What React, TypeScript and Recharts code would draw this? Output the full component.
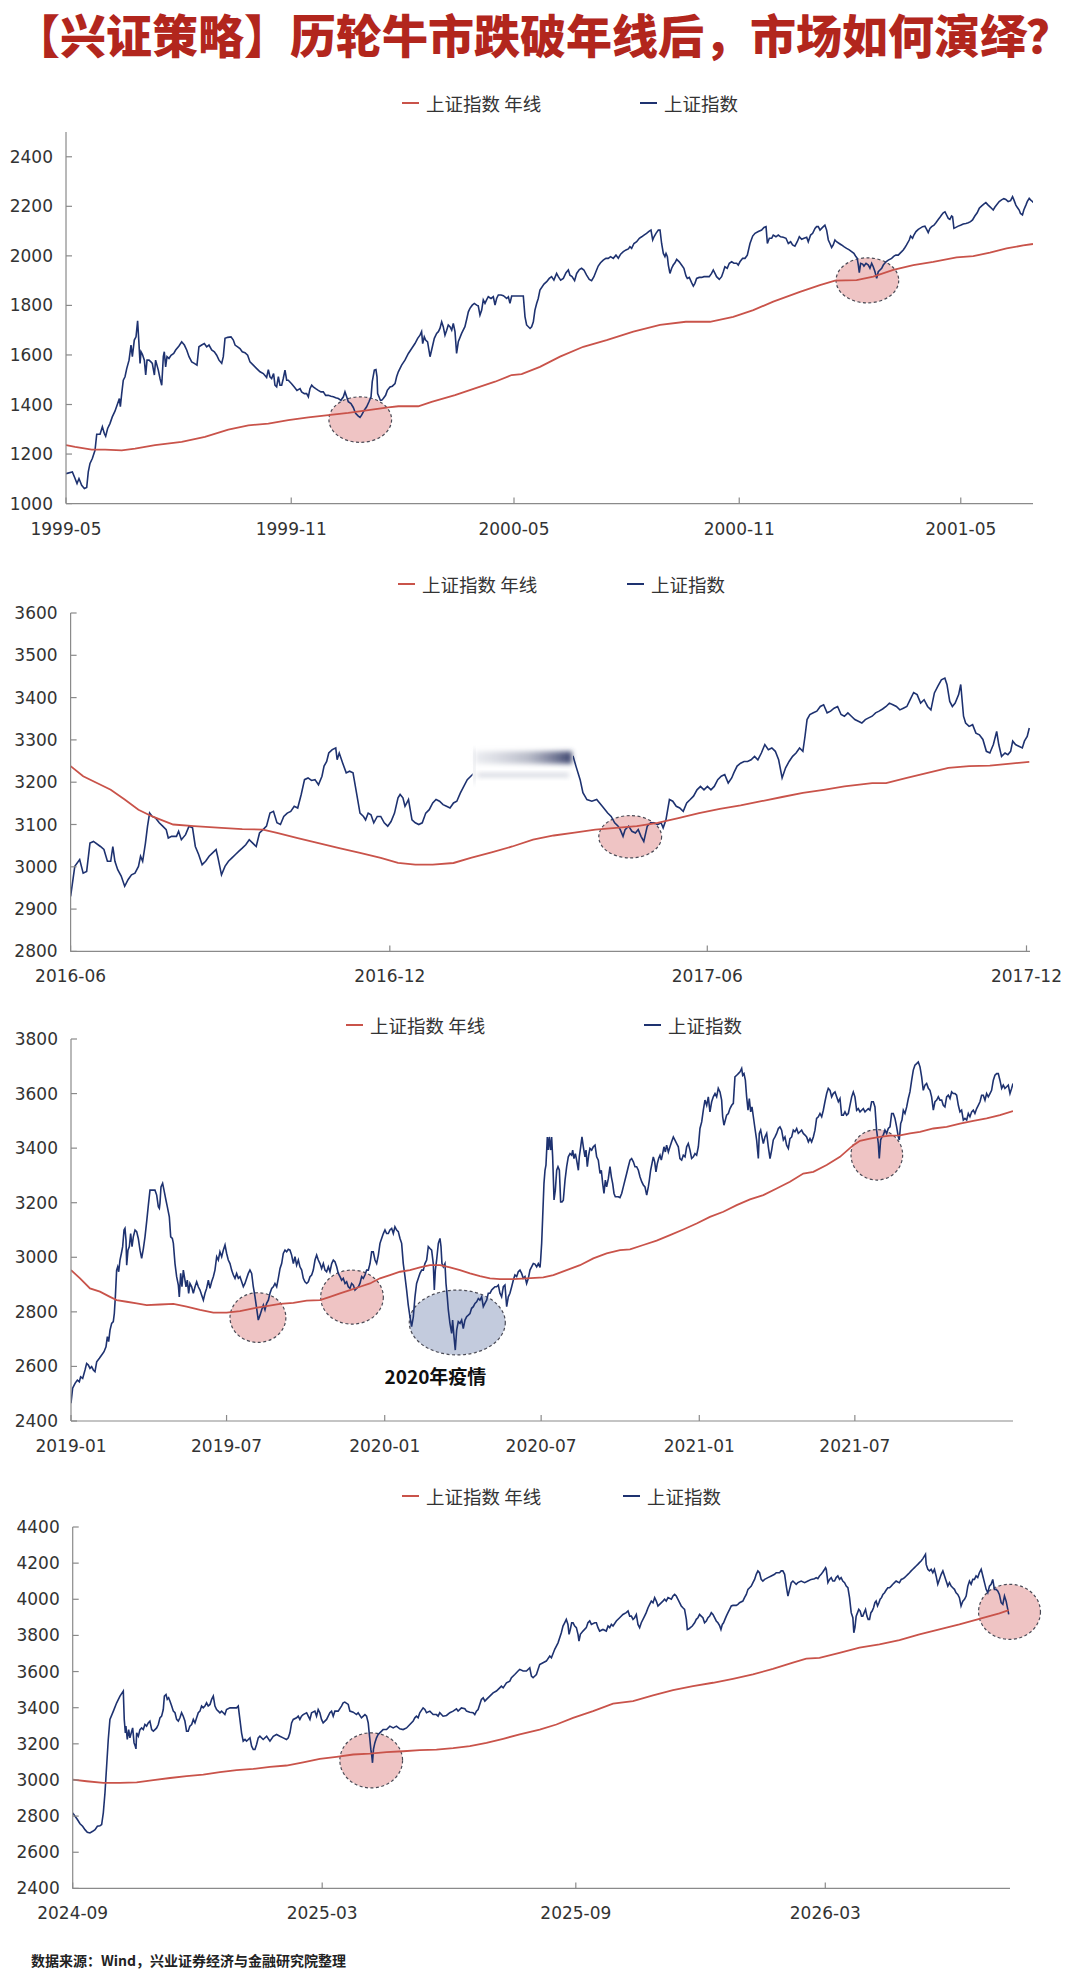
import React from "react";
import { LineChart, Line, XAxis, YAxis, ReferenceArea, ReferenceDot } from "recharts";

// [day offset from panel start, close]
type Pt = [number, number];
type Zone = { x: [number, number]; y: [number, number]; tone: "rose" | "slate" };

// ---------- 1999-05 ~ 2001-06 ----------
const xLabels9901 = ["1999-05", "1999-11", "2000-05", "2000-11", "2001-05"];
const yTicks9901 = [1000, 1200, 1400, 1600, 1800, 2000, 2200, 2400];
const sse9901: Pt[] = [
  [0,1121],[5.2,1128],[7.4,1101],[9,1081],[10.6,1101],[12.8,1074],[15,1061],[16.9,1065],[18.2,1128],[19.6,1162],[21.5,1182],[23.7,1215],[25.1,1280],[27.8,1280],[29.7,1310],[31.3,1283],[32.4,1272],[34,1303],[35.9,1323],[37.8,1350],[40,1373],[42.2,1404],[43.6,1424],[44.4,1391],[45.5,1444],[46.8,1498],[48.2,1512],[49.6,1545],[51.5,1579],[53.1,1640],[54.2,1593],[55.8,1660],[57.2,1673],[58.5,1738],[59.6,1646],[60.5,1566],[61.3,1613],[62.4,1603],[64,1579],[65.1,1519],[66.2,1579],[67.8,1579],[69.4,1572],[70.5,1566],[72.2,1519],[73.2,1579],[74.3,1559],[75.4,1539],[76.8,1505],[78.2,1478],[79.5,1593],[80.3,1613],[81.4,1552],[82.5,1593],[84.1,1586],[85.8,1599],[88,1606],[89.6,1620],[92.3,1636],[94.5,1653],[96.7,1640],[98.6,1620],[100.5,1593],[102.7,1572],[104.8,1566],[107,1559],[108.6,1633],[110.8,1640],[113,1646],[114.9,1633],[116.8,1640],[119,1620],[121.2,1613],[123.1,1599],[125,1579],[127.2,1566],[128.5,1593],[129.9,1667],[132.1,1671],[134.8,1673],[136.7,1660],[138.1,1640],[140.2,1633],[142.1,1626],[144,1613],[146.2,1609],[148.4,1599],[150.3,1572],[153,1559],[155.8,1545],[158.5,1532],[161.2,1525],[163.9,1509],[165.3,1541],[166.6,1512],[168,1505],[169.6,1525],[170.7,1478],[172.1,1471],[173.5,1512],[174.8,1478],[176.2,1478],[177.5,1505],[178.9,1539],[180.3,1498],[181.6,1498],[184.3,1484],[186.5,1471],[188.7,1457],[191.2,1464],[192.5,1451],[194.7,1444],[196.6,1444],[198,1431],[199.3,1464],[200.7,1478],[202,1471],[204,1464],[206.1,1457],[208.3,1451],[210.2,1451],[212.1,1437],[214.3,1437],[216.5,1433],[218.4,1431],[220.3,1427],[222.5,1424],[224.6,1417],[226.6,1431],[227.9,1451],[229.3,1431],[230.6,1411],[232.8,1404],[234.7,1388],[236.6,1364],[238.8,1353],[240.2,1348],[241.5,1357],[243.7,1377],[245.6,1391],[247.5,1411],[249.2,1431],[250.2,1492],[251.9,1539],[253.2,1541],[254.1,1512],[254.6,1444],[255.7,1431],[256.8,1417],[257.9,1417],[259.2,1424],[261.1,1437],[262.5,1457],[264.7,1471],[266.6,1474],[268.8,1484],[270.1,1512],[271.5,1532],[274.2,1559],[276.9,1579],[279.7,1606],[282.4,1626],[285.1,1646],[287.3,1667],[289.2,1680],[290.5,1694],[291.4,1646],[292.7,1673],[293.8,1660],[295.4,1653],[297.4,1593],[298.7,1620],[300.9,1667],[302.8,1687],[304.2,1694],[305.5,1707],[306.9,1734],[308.2,1714],[309.6,1680],[311,1700],[312.3,1721],[313.7,1714],[315.1,1700],[316.4,1727],[317.8,1694],[319.1,1606],[320.5,1653],[323.2,1687],[325.9,1714],[327.3,1743],[328.7,1774],[330,1788],[331.9,1801],[333.6,1808],[335.5,1801],[336.8,1798],[338.2,1761],[339.6,1781],[340.9,1822],[342.3,1808],[343.6,1822],[345,1835],[347.2,1828],[349.1,1835],[350.5,1801],[351.8,1828],[353.2,1842],[355.4,1842],[357.3,1839],[360,1828],[361.4,1835],[362.7,1808],[364.1,1838],[366.8,1838],[370.1,1838],[373.6,1838],[375,1754],[376.3,1721],[379.1,1707],[380.4,1714],[381.8,1734],[383.1,1781],[384.5,1808],[385.8,1828],[387.2,1862],
  [390.5,1886],[392.7,1896],[394.8,1909],[396.7,1916],[398.6,1902],[400.8,1929],[402.2,1916],[404.1,1902],[406.3,1909],[408.5,1932],[410.4,1943],[411.7,1922],[413.4,1916],[415.5,1900],[417.2,1929],[419.4,1945],[421.2,1950],[423.1,1943],[425.3,1922],[427.5,1905],[429.4,1900],[431.3,1916],[432.9,1936],[434.8,1959],[436.7,1972],[438.9,1983],[441.1,1990],[443,1990],[444.9,1997],[447.1,1990],[449.3,2003],[451.2,1990],[453.1,2007],[455.3,2017],[457.5,2024],[459.4,2028],[460.7,2037],[462.1,2030],[464,2050],[466.2,2057],[468.4,2071],[470.3,2077],[472.2,2084],[474.3,2091],[476.5,2100],[477.9,2104],[479.3,2064],[480.4,2077],[482,2091],[483.9,2104],[485.3,2104],[486.6,2050],[488,2010],[489.3,1997],[490.2,2010],[491.3,1997],[492.1,1963],[493.4,1929],[494.8,1950],[496.1,1963],[497.5,1972],[498.9,1986],[501,1976],[502.9,1963],[504.8,1950],[506.5,1919],[507.6,1909],[509.2,1913],[511.1,1892],[512.5,1878],[513.8,1889],[515.2,1909],[517.3,1913],[519.3,1913],[521.2,1916],[523.4,1916],[525.5,1916],[527.4,1929],[528.8,1943],[530.2,1929],[531.5,1916],[533.7,1905],[535.6,1916],[537,1936],[538.3,1956],[540.2,1950],[541.9,1970],[543.8,1976],[545.7,1970],[547.9,1970],[549.2,1963],[550.6,1976],[552.8,1990],[554.7,1990],[556.6,2003],[558.8,2050],[561,2080],[562.9,2091],[565.6,2098],[568.3,2104],[570.2,2115],[571.9,2118],[573,2050],[574.6,2071],[576.5,2071],[577.8,2084],[580,2077],[581.9,2084],[583.8,2077],[586,2075],[588.2,2071],[590.1,2050],[592,2057],[593.6,2044],[595.5,2039],[597.4,2057],[599.1,2077],[601,2067],[602.9,2071],[605.1,2075],[606.4,2057],[608.3,2084],[610,2091],[611.9,2111],[613.2,2118],[614.6,2118],[616,2104],[617.3,2111],[618.7,2118],[620,2124],[621.4,2104],[622.8,2064],[624.1,2050],[625.5,2034],[626.8,2044],[628.2,2064],[629.5,2057],[631.7,2050],[633.6,2044],[635.5,2037],[637.7,2030],[639.9,2024],[641.8,2017],[643.7,2010],[645.3,1997],[646.4,1990],[647.3,1963],[648.1,1932],[649.2,1970],[650.8,1967],[651.9,1959],[653.6,1970],[655.5,1963],[656.8,1950],[658.2,1970],[659.5,1956],[660.9,1936],[662.3,1909],[663.6,1936],[665,1943],[666.4,1950],[667.7,1963],[669.9,1976],[671.8,1983],[674.5,1990],[676.4,1999],[678,2003],[679.9,2003],[681.3,2010],[682.7,2017],[684,2024],[685.4,2034],[686.7,2044],[688.9,2064],[690,2080],[691.6,2071],[692.7,2084],[694.4,2098],[696.3,2107],[697.6,2111],[699.8,2118],[701.7,2120],[703.1,2107],[704.4,2094],[705.8,2111],[707.2,2118],[709.1,2124],[710.7,2134],[712.6,2147],[714,2156],[715.3,2165],[716.7,2174],[718.1,2178],[719.4,2165],[720.8,2151],[722.1,2147],[723.5,2161],[724.3,2158],[725.4,2111],[727,2115],[728.9,2120],[730.8,2124],[733,2129],[735.2,2131],[737.1,2134],[739,2138],[740.6,2145],[742.5,2161],[744.4,2174],[746.1,2192],[747.9,2201],[749.8,2209],[751.5,2215],[753.4,2205],[754.7,2199],[756.1,2192],[757.5,2185],[758.8,2196],[760.2,2205],[762.4,2219],[764.3,2226],[766.2,2231],[767.8,2228],[769.7,2219],[771.7,2223],[773.3,2239],[774.4,2226],[776,2205],[777.1,2196],[778.7,2185],[779.8,2171],[781.4,2165],[782.5,2185],[784.2,2205],[785.3,2219],[786.9,2232],[788,2226],[789.7,2219],[790,2215],
];
const ma9901: Pt[] = [
  [0,1236],[7.4,1229],[21,1218],[31.9,1218],[45.5,1215],[56.4,1222],[72.7,1236],[94.5,1249],[113.5,1269],[132.6,1299],[149,1316],[165.3,1323],[181.6,1337],[198,1348],[214.3,1357],[230.6,1366],[247,1377],[263.3,1388],[271.5,1393],[287.8,1393],[298.7,1411],[317.8,1438],[334.1,1465],[350.5,1492],[364.1,1519],[372.2,1523],[387.2,1552],[403.6,1593],[422.6,1633],[441.7,1660],[463.5,1694],[485.3,1721],[506.4,1734],[526.1,1734],[545.1,1754],[561.5,1781],[577.8,1815],[599.6,1855],[615.9,1882],[628.2,1900],[645.9,1902],[659.5,1916],[675.9,1943],[692.2,1963],[708.5,1976],[727.6,1994],[741.2,1999],[754.8,2013],[768.4,2030],[782,2042],[790,2048],
];
const zones9901: Zone[] = [
  { x: [214.8, 266], y: [1247, 1431], tone: "rose" },
  { x: [629.1, 680.3], y: [1810, 1992], tone: "rose" },
];

// ---------- 2016-06 ~ 2017-12 ----------
const xLabels1617 = ["2016-06", "2016-12", "2017-06", "2017-12"];
const yTicks1617 = [2800, 2900, 3000, 3100, 3200, 3300, 3400, 3500, 3600];
const sse1617: Pt[] = [
  [0,2930],[2.4,3001],[5.2,3017],[7.2,2985],[9.2,2989],[11.1,3056],[13.1,3060],[17.1,3048],[19.1,3041],[21.1,3013],[23,3013],[24.2,3048],[25.4,3013],[27,2993],[29,2978],[31,2954],[33,2970],[34.9,2981],[36.9,2985],[38.9,3001],[40.1,3025],[41.3,3013],[42.9,3056],[44.1,3096],[45.3,3127],[46.8,3119],[48.8,3115],[50.8,3104],[52.8,3096],[54.8,3088],[56,3068],[57.9,3072],[60.7,3072],[61.9,3084],[63.5,3064],[65.9,3076],[67.9,3096],[69.9,3092],[71.5,3048],[73.4,3029],[75.4,3005],[77.4,3013],[79.4,3025],[81.4,3033],[83.4,3041],[84.5,3021],[86.5,2981],[88.5,3001],[90.5,3013],[92.5,3021],[94.5,3029],[96.5,3037],[98.4,3044],[100.4,3052],[102.4,3064],[104.4,3056],[106.4,3048],[108.3,3080],[110.3,3088],[112.3,3096],[114.3,3127],[116.3,3131],[118.3,3104],[120.3,3100],[122.2,3119],[124.2,3127],[126.2,3131],[128.2,3143],[130.2,3139],[132.2,3171],[134.1,3206],[136.1,3210],[138.1,3204],[140.1,3206],[142.1,3194],[144.1,3214],[145.3,3238],[146.8,3249],[148,3269],[150,3277],[152,3281],[152.8,3253],[154,3269],[156,3245],[158,3222],[159.9,3226],[161.9,3222],[163.9,3175],[165.9,3127],[167.9,3119],[169.1,3111],[170.6,3127],[172.2,3123],[173.8,3104],[175.8,3119],[177.8,3119],[179.8,3104],[181.8,3096],[183.7,3107],[185.7,3127],[187.7,3163],[188.9,3171],[190.5,3163],[191.7,3143],[193.7,3159],[195.7,3111],[197.6,3104],[199.6,3100],[201.6,3104],[203.6,3127],[205.6,3135],[207.6,3151],[209.5,3159],[211.5,3155],[213.5,3147],[215.5,3143],[217.5,3139],[219.5,3151],[221.4,3155],[223.4,3174],[225.4,3190],[227.4,3206],[229.4,3214],[231.4,3222],[237.3,3230],[245.2,3245],[255.2,3255],[265.1,3261],[277,3265],[288.1,3261],[289.7,3238],[292.1,3206],[293.7,3175],[296,3159],[298.8,3155],[301.6,3159],[304.8,3143],[307.9,3127],[309.9,3119],[311.9,3104],[313.9,3096],[315.1,3088],[316.7,3072],[317.9,3088],[319.9,3096],[321.8,3084],[323.8,3080],[325.4,3088],[327,3072],[328.6,3060],[330.6,3096],[332.5,3104],[334.5,3104],[336.5,3100],[338.5,3104],[339.7,3092],[341.3,3111],[343.3,3159],[345.2,3155],[347.2,3143],[349.2,3139],[351.2,3131],[353.2,3151],[355.2,3159],[357.1,3167],[359.1,3182],[361.1,3190],[363.1,3182],[365.1,3190],[367.1,3182],[369,3190],[371,3206],[373,3214],[375,3218],[377,3198],[379,3210],[380.2,3222],[382.1,3238],[384.1,3245],[386.1,3249],[388.1,3249],[390.1,3253],[392.1,3261],[394,3253],[396,3269],[398,3289],[400,3277],[402,3281],[404,3273],[405.9,3253],[407.9,3210],[409.9,3234],[411.9,3249],[413.9,3261],[415.9,3269],[417.9,3281],[419.8,3273],[421,3308],[422.2,3348],[423.8,3360],[425.8,3364],[427.8,3368],[429.8,3379],[431.7,3383],[433.7,3364],[435.7,3368],[437.7,3375],[439.7,3379],[441.7,3360],[443.6,3356],[445.6,3364],[447.6,3356],[449.6,3348],[451.6,3344],[453.6,3340],[455.6,3348],[457.5,3352],[459.5,3356],[461.5,3364],[463.5,3368],[465.5,3373],[467.5,3379],[469.4,3387],[471.4,3383],[473.4,3379],[475.4,3371],[477.4,3375],[479.4,3379],[481.3,3395],[483.3,3412],[485.3,3407],[487.3,3387],[489.3,3395],[491.3,3379],[493.2,3371],[495.2,3411],[497.2,3427],[499.2,3442],[501.2,3446],[502.4,3431],[504,3391],[505.5,3379],[507.1,3387],[509.1,3407],[510.3,3431],[511.9,3356],[513.1,3340],[515.1,3332],[517.1,3336],[519,3316],[521,3312],[523,3301],[525,3273],[527,3269],[529,3289],[530.9,3320],[532.1,3289],[533.7,3261],[535.7,3269],[537.3,3265],[538.9,3273],[540.1,3297],[541.7,3289],[543.6,3285],[545.6,3281],[546.8,3297],[548.4,3308],[549.6,3328],
];
const ma1617: Pt[] = [
  [0,3238],[7.2,3214],[15.1,3198],[23,3182],[31,3159],[38.9,3135],[46.8,3119],[58.8,3100],[70.7,3096],[86.5,3092],[98.4,3089],[110.3,3088],[118.3,3080],[130.2,3068],[142.1,3056],[154,3044],[165.9,3033],[177.8,3021],[187.7,3009],[197.6,3005],[207.6,3005],[219.5,3009],[229.4,3021],[241.3,3034],[253.2,3048],[265.1,3064],[277,3074],[288.9,3081],[300.8,3088],[312.7,3092],[324.6,3096],[336.5,3104],[348.4,3115],[360.3,3127],[372.2,3137],[384.1,3145],[396,3155],[407.9,3165],[419.8,3175],[431.7,3182],[443.6,3190],[459.5,3198],[467.5,3198],[479.4,3210],[491.3,3222],[503.2,3234],[515.1,3238],[527,3239],[538.9,3244],[549.6,3248],
];
const zones1617: Zone[] = [{ x: [302.8, 338.8], y: [3021, 3121], tone: "rose" }];
const smudge1617 = { x: [231, 288] as [number, number], y: [3192, 3284] as [number, number] };

// ---------- 2019-01 ~ 2021-12 ----------
const xLabels1921 = ["2019-01", "2019-07", "2020-01", "2020-07", "2021-01", "2021-07"];
const yTicks1921 = [2400, 2600, 2800, 3000, 3200, 3400, 3600, 3800];
const sse1921: Pt[] = [
  [0,2465],[1.9,2520],[4.7,2538],[7.4,2550],[9.7,2544],[11.2,2562],[13.6,2556],[16.3,2587],[18.2,2611],[20.2,2605],[22.1,2593],[24,2599],[26,2587],[27.9,2581],[29.9,2617],[33,2630],[35.7,2642],[38.4,2654],[40.7,2672],[42.3,2709],[43.8,2691],[45.4,2733],[47.3,2758],[49.2,2764],[50.4,2794],[51.6,2855],[53.1,2953],[54.3,2965],[55.5,2947],[57,2990],[58.6,3014],[60.1,3039],[61.7,3100],[62.8,3106],[64,3063],[64.8,2971],[66.3,3026],[67.9,3039],[69.4,3087],[71,3039],[72.5,3075],[74.5,3100],[76.4,3094],[78.3,3069],[80.3,3026],[82.2,2996],[84.2,3032],[86.1,3075],[88,3130],[90,3191],[91.9,3246],[95,3246],[97.7,3246],[99.7,3228],[101.6,3185],[102.8,3179],[103.5,3197],[104.7,3258],[106.6,3271],[108.2,3246],[110.5,3209],[112.1,3185],[114.4,3148],[116,3075],[117.9,3069],[119.1,3051],[121,2977],[122.9,2929],[124.9,2898],[126,2855],[127.6,2941],[129.1,2892],[130.7,2953],[132.6,2916],[133.8,2892],[135.3,2916],[136.9,2868],[138.4,2904],[140.4,2892],[142.3,2868],[144.3,2892],[146.2,2910],[148.1,2892],[150.1,2880],[152,2862],[154,2843],[155.9,2868],[157.8,2886],[159.8,2916],[161.7,2886],[163.6,2910],[165.6,2929],[167.5,2953],[169.5,3002],[171.4,2990],[173.3,3020],[175.3,3002],[177.2,3026],[179.2,3045],[181.1,3014],[183,2990],[185,2977],[186.9,2953],[188.9,2935],[190.8,2923],[192.7,2941],[194.7,2923],[196.6,2929],[198.6,2910],[200.5,2892],[202.4,2904],[204.4,2923],[206.3,2941],[208.2,2953],[210.2,2941],[212.1,2892],[214.1,2855],[216,2813],[217.9,2770],[219.9,2788],[221.8,2807],[223.8,2825],[225.7,2807],[227.6,2831],[229.6,2843],[231.5,2868],[233.5,2886],[235.4,2892],[237.3,2904],[239.3,2892],[241.2,2923],[243.2,2959],[245.1,2977],[247,3014],[249,3026],[250.9,3020],[252.8,3029],[254.8,3026],[256.7,3008],[258.7,2977],[260.6,3002],[262.5,2971],[264.5,2990],[266.4,2965],[268.4,2953],[270.3,2923],[272.2,2910],[274.2,2904],[276.1,2910],[278.1,2929],[280,2935],[281.9,2953],[283.9,2990],[285.8,3008],[287.7,2990],[289.7,2977],[291.6,2959],[293.6,2977],[295.5,2953],[297.4,2947],[299.4,2965],[301.3,2947],[303.3,2977],[305.2,2990],[307.1,2984],[309.1,2965],[311,2941],[313,2929],[314.9,2916],[316.8,2923],[318.8,2904],[320.7,2910],[322.6,2892],[324.6,2886],[326.5,2904],[328.5,2898],[330.4,2880],[332.3,2886],[334.3,2892],[336.2,2904],[338.2,2929],[340.1,2923],[342,2935],[344,2953],[345.9,2953],[347.9,2977],[349.8,3020],[351.7,3020],[353.7,2990],[355.6,2977],[357.6,3008],[359.5,3051],[361.4,3069],[363.4,3087],[365.3,3100],[367.2,3087],[369.2,3087],[371.1,3100],[373.1,3106],[375,3087],[376.9,3112],[378.9,3100],[380.8,3094],[382.8,3069],[384.7,3051],[386.6,2977],[388.6,2929],[390.5,2880],[392.4,2825],[394.4,2782],[396.3,2746],[398.3,2782],[400.2,2855],[402.1,2904],[404.1,2923],[406,2941],[408,2953],[409.9,2953],[411.8,2977],[413.8,2990],[415.7,3039],[417.7,3032],[419.6,3026],[421.5,2977],[422.7,2880],[423.9,2953],[425.4,2990],[427.4,3051],[429.3,3069],[430.5,3039],[431.6,2977],[433.2,2965],[435.1,2977],[436.3,2904],[437.8,2855],[439,2807],[440.9,2758],[442.9,2721],[444,2770],[445.6,2709],[447.1,2660],[448.7,2733],[450.6,2764],[452.6,2758],[454.5,2770],[456.4,2739],[458.4,2770],[460.3,2782],[462.3,2788],[464.2,2794],[466.1,2813],[468.1,2819],[470,2831],[472,2837],[473.9,2849],[475.8,2843],[477.8,2855],[479.7,2819],[481.6,2831],[483.6,2843],[485.5,2868],[487.5,2868],[489.4,2880],[491.3,2886],[493.3,2892],[495.2,2892],[497.2,2898],[499.1,2868],[501,2855],[503,2892],[504.9,2898],[506.9,2819],[508.8,2855],[510.7,2868],[512.7,2892],[514.6,2916],[516.5,2935],[518.5,2929],[520.4,2947],[522.4,2953],[524.3,2941],[526.2,2923],[528.2,2929],[530.1,2904],[532.1,2923],[534,2953],[535.9,2965],[537.9,2977],[539.8,2975],[541.8,2965],[543.7,2977],
  [545.7,2963],[546.4,2990],[547.6,3051],[548.8,3148],[550.3,3271],[551.5,3319],[552.6,3338],[554.2,3441],[555.4,3393],[556.5,3441],[558.1,3393],[559.2,3441],[560.4,3368],[562,3210],[563.5,3246],[565.1,3319],[566.6,3332],[568.2,3319],[569.7,3203],[571.3,3203],[572.8,3209],[574.8,3283],[576.7,3332],[578.6,3368],[580.6,3380],[582.5,3374],[583.7,3393],[585.2,3362],[586.8,3380],[588.3,3356],[590.3,3319],[591.4,3368],[593,3405],[594.5,3441],[596.1,3405],[598,3368],[599.2,3393],[600.7,3332],[602.3,3374],[603.8,3399],[605.8,3393],[607.7,3405],[609.7,3411],[611.6,3368],[613.5,3356],[615.5,3307],[617,3319],[618.6,3271],[620.1,3234],[621.7,3283],[623.2,3258],[625.2,3289],[627.1,3332],[628.7,3295],[630.2,3271],[631.8,3234],[633.3,3222],[636.8,3222],[638.7,3219],[640.7,3234],[642.6,3258],[644.6,3283],[646.5,3307],[648.4,3332],[650.4,3356],[652.3,3362],[654.3,3350],[656.2,3332],[658.1,3332],[660.1,3319],[662,3295],[664,3277],[665.9,3265],[667.8,3258],[669.8,3228],[671.7,3258],[672.9,3283],[674.4,3319],[676,3344],[677.5,3368],[679.1,3350],[680.6,3313],[682.2,3344],[683.7,3362],[685.3,3374],[686.8,3356],[688.4,3380],[689.9,3405],[691.5,3386],[693,3411],[695,3386],[696.9,3405],[698.8,3423],[700.8,3441],[702.7,3429],[704.7,3417],[706.6,3405],[708.5,3362],[710.5,3356],[712.4,3374],[714.4,3368],[716.3,3405],[718.2,3417],[720.2,3393],[722.1,3362],[724.1,3368],[726,3380],[727.9,3374],[729.9,3405],[731.8,3472],[733.8,3496],[735.7,3539],[737.6,3576],[739.6,3557],[741.5,3588],[743.4,3533],[745.4,3570],[747.3,3588],[749.3,3600],[751.2,3588],[753.1,3619],[755.1,3606],[757,3576],[758.2,3515],[759.7,3484],[761.3,3503],[762.8,3521],[764.8,3527],[766.7,3545],[768.7,3557],[770.6,3564],[772.5,3661],[774.5,3667],[776.4,3673],[778.4,3680],[780.3,3692],[781.5,3667],[783,3673],[784.6,3649],[786.1,3588],[787.7,3539],[789.2,3582],[790.8,3533],[792.3,3551],[793.9,3515],[795.8,3472],[797.7,3430],[799.7,3362],[800.8,3454],[802.4,3466],[803.9,3441],[805.5,3417],[807.4,3441],[809.4,3454],[811.3,3405],[813.3,3362],[815.2,3393],[817.1,3430],[819.1,3441],[821,3454],[823,3472],[824.9,3478],[826.8,3466],[828.8,3430],[830.7,3441],[832.6,3411],[834.6,3399],[836.5,3435],[838.5,3441],[840.4,3466],[842.3,3460],[844.3,3472],[846.2,3454],[848.2,3460],[850.1,3466],[852,3454],[854,3448],[855.9,3441],[857.9,3423],[859.8,3435],[861.7,3423],[863.7,3441],[865.6,3466],[867.5,3509],[869.5,3515],[871.4,3527],[873.4,3515],[875.3,3539],[877.2,3570],[879.2,3600],[881.1,3619],[883.1,3612],[885,3588],[886.9,3600],[888.9,3606],[890.8,3588],[892.8,3570],[894.7,3582],[896.6,3521],[898.6,3521],[900.5,3533],[902.4,3521],[904.4,3527],[906.3,3557],[908.3,3588],[910.2,3606],[912.1,3588],[914.1,3539],[916,3545],[918,3533],[919.9,3539],[921.8,3545],[923.8,3533],[925.7,3539],[927.6,3545],[929.6,3539],[931.5,3570],[933.5,3570],[935.4,3551],[937.3,3466],[939.3,3417],[940.4,3362],[942,3430],[943.5,3441],[945.1,3448],[947,3466],[949,3454],[950.9,3472],[952.9,3478],[954.8,3527],[956.7,3527],[958.7,3509],[960.6,3478],[962.6,3441],[963.7,3430],[965.3,3490],[966.8,3503],[968.4,3539],[970.3,3527],[972.3,3551],[974.2,3582],[976.1,3606],[978.1,3649],[980,3686],[981.9,3704],[983.9,3710],[985.8,3716],[987.8,3698],[989.7,3661],[991.6,3612],[993.6,3631],[995.5,3637],[997.5,3619],[999.4,3612],[1001.3,3588],[1003.3,3539],[1005.2,3570],[1007.2,3576],[1009.1,3588],[1011,3576],[1013,3576],[1014.9,3557],[1016.8,3551],[1018.8,3588],[1020.7,3594],[1022.7,3582],[1024.6,3606],[1026.5,3600],[1028.5,3600],[1030.4,3594],[1032.4,3557],[1034.3,3533],[1036.2,3539],[1038.2,3503],[1040.1,3509],[1042.1,3503],[1044,3527],[1045.9,3515],[1047.9,3533],[1049.8,3539],[1051.7,3527],[1053.7,3545],[1055.6,3557],[1057.6,3570],[1059.5,3594],[1061.4,3594],[1063.4,3576],[1065.3,3600],[1067.3,3588],[1069.2,3600],[1071.1,3612],[1073.1,3649],[1075,3667],[1077,3673],[1078.9,3673],[1080.8,3649],[1082.8,3619],[1084.7,3631],[1086.6,3619],[1088.6,3625],[1090.5,3631],[1092.5,3600],[1094.4,3619],[1096,3637],
];
const ma1921: Pt[] = [
  [0,2953],[10.5,2923],[22.1,2886],[33.7,2874],[45.4,2855],[53.1,2843],[64.8,2837],[76.4,2831],[88,2825],[103.5,2827],[119.1,2829],[134.6,2819],[150.1,2807],[165.6,2797],[181.1,2797],[196.6,2803],[212.1,2813],[227.6,2821],[243.2,2829],[258.7,2833],[274.2,2841],[289.7,2843],[301.3,2855],[313,2868],[324.6,2880],[336.2,2892],[347.9,2904],[359.5,2923],[371.1,2935],[382.8,2947],[394.4,2953],[406,2963],[417.7,2971],[429.3,2971],[440.9,2963],[452.6,2953],[464.2,2941],[475.8,2931],[487.5,2923],[499.1,2920],[514.6,2920],[530.1,2923],[549.5,2926],[561.2,2935],[576.7,2953],[592.2,2971],[607.7,2996],[623.2,3014],[638.7,3026],[650.4,3029],[665.9,3045],[681.4,3061],[696.9,3081],[712.4,3102],[727.9,3124],[743.4,3148],[759,3167],[774.5,3191],[790,3212],[805.5,3228],[821,3252],[836.5,3277],[852,3307],[863.7,3313],[879.2,3338],[894.7,3368],[910.2,3411],[918,3427],[929.6,3435],[941.2,3441],[952.9,3446],[964.5,3447],[976.1,3454],[987.8,3460],[1003.3,3472],[1018.8,3478],[1034.3,3490],[1049.8,3500],[1065.3,3509],[1080.8,3521],[1096,3536],
];
const zones1921: Zone[] = [
  { x: [185, 250], y: [2688, 2870], tone: "rose" },
  { x: [290.5, 363.4], y: [2755, 2953], tone: "rose" },
  { x: [393.6, 505.3], y: [2642, 2880], tone: "slate" },
  { x: [907.5, 967.6], y: [3283, 3468], tone: "rose" },
];
const note1921 = { x: 424, y: 2568, text: "2020年疫情" };

// ---------- 2024-09 ~ 2026-07 ----------
const xLabels2426 = ["2024-09", "2025-03", "2025-09", "2026-03"];
const yTicks2426 = [2400, 2600, 2800, 3000, 3200, 3400, 3600, 3800, 4000, 4200, 4400];
const sse2426: Pt[] = [
  [0,2818],[1.7,2799],[3.4,2781],[5.3,2758],[7.2,2744],[8.9,2725],[10.6,2711],[12.5,2707],[14.5,2716],[16.2,2725],[17.9,2744],[19.8,2747],[21,2753],[22.2,2818],[23.4,2928],[24.6,3076],[25.8,3224],[27,3335],[29.5,3381],[31.9,3427],[34.3,3464],[36.7,3492],[37.4,3335],[38.2,3261],[38.6,3298],[39.6,3224],[40.6,3279],[41.5,3233],[42.5,3261],[43.5,3288],[44.5,3205],[45.4,3187],[45.9,3172],[46.4,3261],[47.6,3242],[48.8,3279],[50,3288],[51.2,3279],[52.4,3307],[53.6,3298],[54.8,3316],[56,3326],[57.3,3279],[58.5,3270],[59.7,3279],[60.9,3288],[62.1,3307],[63.3,3344],[64.5,3353],[65.7,3390],[66.5,3464],[67.7,3473],[68.6,3446],[69.6,3455],[70.6,3436],[71.8,3409],[73,3381],[74.2,3372],[75.4,3335],[76.6,3326],[77.8,3344],[79,3372],[80.2,3353],[81.4,3326],[82.6,3270],[83.8,3270],[85,3298],[86.3,3307],[87.5,3335],[88.7,3316],[89.9,3344],[91.1,3372],[92.3,3381],[93.5,3409],[94.7,3399],[95.9,3409],[97.1,3427],[98.3,3409],[99.6,3418],[100.8,3446],[102,3464],[103.2,3409],[104.4,3390],[105.6,3381],[106.8,3372],[108,3381],[109.2,3372],[110.4,3362],[111.6,3390],[114.1,3399],[116.5,3399],[118.9,3399],[120.1,3409],[121.3,3335],[122.5,3261],[123.7,3215],[125,3224],[126.1,3215],[127.4,3224],[128.6,3233],[129.8,3187],[131,3169],[132.2,3169],[133.4,3196],[134.6,3233],[135.8,3242],[138.2,3224],[140.7,3242],[143.1,3215],[145.5,3242],[147.9,3252],[150.3,3242],[152.7,3233],[155.1,3224],[156.4,3233],[157.6,3261],[158.8,3316],[160,3335],[162.4,3344],[163.6,3353],[164.8,3335],[166,3353],[167.2,3362],[169.7,3372],[170.9,3353],[172.1,3335],[173.3,3372],[175.7,3381],[176.9,3353],[178.1,3390],[179.3,3372],[180.5,3335],[181.7,3316],[184.2,3335],[186.6,3372],[187.8,3381],[189,3353],[190.2,3381],[192.6,3381],[195,3409],[196.2,3427],[197.4,3431],[199.9,3418],[201.1,3381],[203.5,3375],[205.9,3362],[207.1,3372],[209.5,3344],[212,3362],[213.2,3353],[214.4,3316],[215.1,3261],[215.6,3224],[216.3,3169],[217,3132],[217.5,3095],[218.2,3169],[219.2,3205],[220.4,3233],[221.6,3252],[222.8,3261],[225.2,3279],[227.7,3279],[230.1,3298],[232.5,3288],[234.9,3298],[237.3,3283],[239.7,3279],[242.2,3288],[244.6,3307],[247,3326],[248.2,3344],[249.4,3353],[250.6,3344],[251.8,3372],[254.2,3399],[255.5,3390],[256.7,3372],[259.1,3381],[261.5,3362],[263.9,3362],[265.1,3353],[266.3,3372],[268.7,3353],[271.2,3357],[273.6,3372],[276,3381],[278.4,3394],[279.6,3381],[282,3399],[284.5,3394],[285.7,3381],[288.1,3375],[290.5,3372],[291.7,3362],[292.9,3381],[294.1,3390],[295.3,3418],[296.5,3446],[297.8,3455],[299,3436],[300.2,3446],[302.6,3464],[305,3482],[307.4,3492],[309.8,3510],[311,3519],[312.3,3510],[314.7,3538],[317.1,3547],[318.3,3566],[320.7,3584],[323.1,3603],[324.3,3612],[326.8,3603],[329.2,3603],[331.6,3621],[332.8,3575],[334,3566],[336.4,3584],[337.6,3612],
  [338.8,3639],[341.2,3649],[343.6,3658],[346.1,3686],[347.3,3676],[349.7,3723],[352.1,3759],[354.5,3815],[355.7,3852],[356.9,3870],[358.1,3889],[359.3,3861],[360.1,3806],[361,3833],[362,3870],[363,3870],[364.2,3852],[365.4,3843],[366.6,3806],[367.3,3769],[368.3,3806],[370.2,3824],[372.6,3843],[373.8,3870],[375.1,3880],[376.3,3861],[378.7,3870],[379.9,3870],[381.1,3843],[382.3,3824],[384.7,3833],[387.1,3824],[388.4,3852],[389.6,3843],[390.8,3861],[392,3852],[394.4,3880],[396.8,3898],[399.2,3916],[401.6,3926],[402.9,3935],[404.1,3907],[405.3,3907],[406.5,3889],[407.7,3898],[408.9,3916],[410.1,3861],[411.3,3843],[412.5,3870],[414.9,3907],[416.1,3926],[417.4,3953],[418.6,3972],[419.8,3990],[421,3981],[422.2,4009],[423.4,3990],[424.6,3963],[425.8,3972],[428.2,3990],[429.4,4000],[430.6,3990],[431.9,4009],[434.3,4000],[435.5,4018],[436.7,4027],[437.9,4018],[439.1,4000],[440.3,3981],[441.5,3963],[442.7,3953],[443.9,3944],[445.2,3889],[445.9,3833],[447.1,3837],[448.1,3843],[449.5,3852],[451.2,3870],[452.4,3889],[453.6,3898],[454.8,3916],[456,3907],[457.2,3898],[458.4,3870],[459.7,3880],[460.9,3898],[462.1,3907],[463.3,3926],[464.5,3916],[465.7,3898],[466.9,3880],[468.1,3870],[469.3,3855],[470.3,3833],[471.3,3861],[472.2,3870],[473.2,3889],[474.2,3907],[475.4,3926],[476.6,3944],[477.8,3963],[479,3966],[481.4,3966],[482.6,3972],[483.8,3981],[486.2,3990],[487.4,4009],[488.7,4027],[489.9,4055],[491.1,4064],[492.3,4073],[493.5,4092],[494.7,4110],[495.9,4138],[497.1,4157],[498.3,4147],[499.5,4110],[500.7,4101],[502,4110],[504.4,4120],[506.8,4129],[509.2,4138],[510.4,4147],[512.8,4147],[514,4157],[515.2,4157],[516.5,4138],[517.7,4073],[518.9,4018],[520.1,4055],[521.3,4092],[522.5,4101],[524.9,4083],[526.1,4092],[528.5,4101],[531,4092],[533.4,4101],[535.8,4110],[538.2,4114],[539.4,4120],[540.6,4114],[541.8,4129],[543,4138],[544.2,4151],[545.5,4166],[546.2,4175],[546.7,4166],[547.9,4092],[549.1,4110],[550.3,4120],[551.5,4101],[552.7,4101],[553.9,4120],[555.1,4129],[556.3,4110],[557.5,4120],[558.7,4101],[560,4092],[561.2,4073],[562.4,4064],[563.6,4009],[564.8,3926],[566,3898],[566.7,3815],[567.5,3843],[568.4,3907],[569.4,3926],[570.3,3944],[571.3,3935],[572.3,3907],[573.2,3907],[574.2,3926],[575.2,3944],[576.2,3907],[577.1,3889],[578.1,3889],[579.1,3926],[580,3935],[581,3953],[582,3981],[582.9,3990],[583.9,3963],[584.9,3981],[585.8,4000],[586.8,4009],[587.8,4027],[589,4036],[590.2,4051],[591.4,4064],[592.6,4064],[593.8,4073],[595,4083],[596.2,4092],[597.4,4101],[598.6,4096],[599.8,4092],[601.1,4110],[602.3,4114],[603.5,4120],[604.7,4129],[605.9,4138],[607.1,4147],[608.3,4157],[609.5,4166],[610.7,4175],[611.9,4184],[613.1,4193],[614.3,4203],[615.5,4212],[616.8,4225],[618,4240],[618.7,4249],[619.2,4193],[620.4,4166],[621.6,4157],[622.8,4166],[624,4147],[625.2,4166],[626.4,4129],[627.6,4083],[628.8,4110],[630.1,4138],[631.3,4157],[632.5,4129],[633.7,4101],[634.9,4073],[636.1,4092],[637.3,4073],[638.5,4064],[639.7,4055],[640.9,4036],[642.1,4027],[643.3,4009],[644.5,3963],[645.8,3990],[647,4000],[648.2,4018],[649.4,4073],[650.6,4101],[651.8,4083],[653,4110],[654.2,4110],[655.4,4129],[656.6,4120],[657.8,4147],[659.1,4166],[660.3,4129],[661.5,4092],[662.7,4055],[663.9,4036],[665.1,4073],[666.3,4083],[667.5,4110],[668.7,4055],[669.9,4055],[671.1,4046],[672.3,4027],[673.6,3981],[674.8,3972],[676,4018],[677.2,3990],[678.4,3944],[679.1,3916],
];
const ma2426: Pt[] = [
  [0,3002],[10.1,2993],[22.2,2984],[34.3,2984],[46.4,2987],[58.5,2999],[70.6,3011],[82.6,3021],[94.7,3030],[106.8,3043],[118.9,3054],[131,3061],[143.1,3072],[155.1,3080],[167.2,3098],[179.3,3117],[191.4,3128],[203.5,3141],[215.6,3146],[227.7,3154],[239.7,3159],[251.8,3165],[263.9,3168],[276,3176],[288.1,3187],[300.2,3205],[312.3,3228],[324.3,3252],[338.8,3279],[350.9,3307],[363,3344],[377.5,3381],[392,3422],[406.5,3436],[421,3468],[435.5,3497],[450,3519],[464.5,3538],[479,3560],[493.5,3584],[508,3615],[522.5,3649],[532.2,3671],[541.8,3676],[556.3,3704],[570.8,3732],[585.3,3750],[599.8,3774],[614.3,3806],[628.8,3833],[643.3,3861],[657.8,3892],[672.3,3922],[679.1,3940],
];
const zones2426: Zone[] = [
  { x: [193.8, 239.3], y: [2956, 3261], tone: "rose" },
  { x: [657.2, 702.1], y: [3778, 4083], tone: "rose" },
];

// ---------- layout ----------
const NAVY = "#1E3270";
const BRICK = "#C9534A";
const AXIS = "#8a8a8a";
const TICK_FONT = { fill: "#333", fontSize: 17, fontFamily: "DejaVu Sans" };

const dayOf = (start: string, ym: string) =>
  Math.round((Date.parse(ym + "-01") - Date.parse(start)) / 86400000);

const toRows = (pts: Pt[]) => pts.map(([d, v]) => ({ d, v }));

const Bubble = (tone: "rose" | "slate") => (p: any) => (
  <ellipse
    cx={p.x + p.width / 2}
    cy={p.y + p.height / 2}
    rx={Math.abs(p.width) / 2}
    ry={Math.abs(p.height) / 2}
    fill={tone === "rose" ? "#E08A8A" : "#8797BC"}
    fillOpacity={0.5}
    stroke="#4a4a55"
    strokeWidth={1.2}
    strokeDasharray="3 2.5"
  />
);

// blurred patch sitting over part of the 2017 line
const Smudge = (p: any) => {
  const { x, y, width: w, height: h } = p;
  return (
    <g>
      <defs>
        <filter id="smudgeBlur" x="-20%" y="-80%" width="140%" height="260%">
          <feGaussianBlur stdDeviation="2.8" />
        </filter>
        <linearGradient id="smudgeFade" x1="0" x2="1" y1="0" y2="0">
          <stop offset="0" stopColor="#c4c8d4" stopOpacity={0.35} />
          <stop offset="0.55" stopColor="#9297ab" stopOpacity={0.65} />
          <stop offset="1" stopColor="#323a66" stopOpacity={0.95} />
        </linearGradient>
      </defs>
      <rect x={x - 1} y={y} width={w + 1} height={h} fill="#fff" />
      <rect x={x + 2} y={y + h * 0.12} width={w - 3} height={h * 0.32} fill="url(#smudgeFade)" filter="url(#smudgeBlur)" />
      <rect x={x + 4} y={y + h * 0.68} width={w - 8} height={h * 0.1} fill="#c3c7d3" opacity={0.75} filter="url(#smudgeBlur)" />
      <rect x={x} y={y + h * 0.05} width={1.5} height={h * 0.9} fill="#c9ccd6" filter="url(#smudgeBlur)" />
    </g>
  );
};

interface PanelProps {
  start: string;
  end: number;
  xLabels: string[];
  yDomain: [number, number];
  yTicks: number[];
  index: Pt[];
  yearLine: Pt[];
  zones: Zone[];
  note?: { x: number; y: number; text: string };
  smudge?: { x: [number, number]; y: [number, number] };
  frame: { top: number; bottom: number; left: number; right: number };
  legend: { y: number; red: number; blue: number };
}

const LegendKey = ({ left, top, color, label }: { left: number; top: number; color: string; label: string }) => (
  <div style={{ position: "absolute", left, top: top - 13, height: 26, display: "flex", alignItems: "center" }}>
    <span style={{ display: "inline-block", width: 17, height: 2, background: color }} />
    <span style={{ marginLeft: 7, fontSize: 18.5, color: "#333", whiteSpace: "pre" }}>{label}</span>
  </div>
);

const Panel = (props: PanelProps) => {
  const { start, end, xLabels, yDomain, yTicks, index, yearLine, zones, note, smudge, frame, legend } = props;
  const padTop = 20;
  const height = frame.bottom - frame.top + padTop + 50;
  const xTicks = xLabels.map((l) => dayOf(start, l));
  const label = (d: number) => xLabels[xTicks.indexOf(d)] ?? "";
  return (
    <>
      <LegendKey left={legend.red} top={legend.y} color={BRICK} label="上证指数 年线" />
      <LegendKey left={legend.blue} top={legend.y} color={NAVY} label="上证指数" />
      <div style={{ position: "absolute", left: 0, top: frame.top - padTop, width: 1080, height }}>
        <LineChart
          width={1080}
          height={height}
          margin={{ top: padTop, right: 1080 - frame.right, bottom: 10, left: frame.left - 60 }}
        >
          <XAxis
            dataKey="d"
            type="number"
            domain={[0, end]}
            ticks={xTicks}
            interval={0}
            tickFormatter={label}
            allowDataOverflow
            height={40}
            tickSize={-6}
            tickMargin={25}
            tick={TICK_FONT}
            axisLine={{ stroke: AXIS, strokeWidth: 1.2 }}
            tickLine={{ stroke: AXIS, strokeWidth: 1.2 }}
          />
          <YAxis
            type="number"
            domain={yDomain}
            ticks={yTicks}
            interval={0}
            allowDataOverflow
            width={60}
            tickSize={-6}
            tickMargin={19}
            tick={TICK_FONT}
            axisLine={{ stroke: AXIS, strokeWidth: 1.2 }}
            tickLine={{ stroke: AXIS, strokeWidth: 1.2 }}
          />
          <Line data={toRows(index)} dataKey="v" stroke={NAVY} strokeWidth={1.6} dot={false} type="linear" isAnimationActive={false} />
          <Line data={toRows(yearLine)} dataKey="v" stroke={BRICK} strokeWidth={1.8} dot={false} type="linear" isAnimationActive={false} />
          {smudge && (
            <ReferenceArea
              x1={smudge.x[0]}
              x2={smudge.x[1]}
              y1={smudge.y[0]}
              y2={smudge.y[1]}
              ifOverflow="visible"
              shape={Smudge}
              {...({ zIndex: 450 } as any)}
            />
          )}
          {zones.map((z, i) => (
            <ReferenceArea key={i} x1={z.x[0]} x2={z.x[1]} y1={z.y[0]} y2={z.y[1]} ifOverflow="visible" shape={Bubble(z.tone)} />
          ))}
          {note && (
            <ReferenceDot
              x={note.x}
              y={note.y}
              r={0}
              ifOverflow="visible"
              shape={(p: any) => (
                <text x={p.cx} y={p.cy} textAnchor="middle" dominantBaseline="central" fontSize={19} fontWeight={700} fill="#111" fontFamily="Noto Sans CJK SC">
                  {note.text}
                </text>
              )}
            />
          )}
        </LineChart>
      </div>
    </>
  );
};

export default function App() {
  return (
    <div
      style={{
        position: "absolute",
        left: 0,
        top: 0,
        width: 1080,
        height: 1972,
        background: "#fff",
        overflow: "hidden",
        fontFamily: "'Noto Sans CJK SC', 'Noto Sans', sans-serif",
      }}
    >
      <div
        style={{
          position: "absolute",
          left: 14,
          top: 10,
          fontSize: 46,
          lineHeight: "47px",
          fontWeight: 900,
          color: "#B2261D",
          whiteSpace: "nowrap",
        }}
      >
        【兴证策略】历轮牛市跌破年线后，市场如何演绎？
      </div>
      <Panel
        start="1999-05-01"
        end={790}
        xLabels={xLabels9901}
        yDomain={[1000, 2500]}
        yTicks={yTicks9901}
        index={sse9901}
        yearLine={ma9901}
        zones={zones9901}
        frame={{ top: 131.7, bottom: 503.3, left: 66, right: 1033 }}
        legend={{ y: 103, red: 402, blue: 640 }}
      />
      <Panel
        start="2016-06-01"
        end={550}
        xLabels={xLabels1617}
        yDomain={[2800, 3600]}
        yTicks={yTicks1617}
        index={sse1617}
        yearLine={ma1617}
        zones={zones1617}
        smudge={smudge1617}
        frame={{ top: 613.3, bottom: 951.7, left: 70.6, right: 1030 }}
        legend={{ y: 584, red: 398, blue: 627 }}
      />
      <Panel
        start="2019-01-01"
        end={1096}
        xLabels={xLabels1921}
        yDomain={[2400, 3800]}
        yTicks={yTicks1921}
        index={sse1921}
        yearLine={ma1921}
        zones={zones1921}
        note={note1921}
        frame={{ top: 1039, bottom: 1421, left: 71, right: 1013 }}
        legend={{ y: 1025, red: 346, blue: 644 }}
      />
      <Panel
        start="2024-09-01"
        end={680}
        xLabels={xLabels2426}
        yDomain={[2400, 4400]}
        yTicks={yTicks2426}
        index={sse2426}
        yearLine={ma2426}
        zones={zones2426}
        frame={{ top: 1527.3, bottom: 1888.7, left: 72.7, right: 1010 }}
        legend={{ y: 1496, red: 402, blue: 623 }}
      />
      <div
        style={{
          position: "absolute",
          left: 31,
          top: 1951,
          fontSize: 14,
          lineHeight: "18px",
          fontWeight: 700,
          color: "#222",
          whiteSpace: "nowrap",
        }}
      >
        数据来源：Wind，兴业证券经济与金融研究院整理
      </div>
    </div>
  );
}
